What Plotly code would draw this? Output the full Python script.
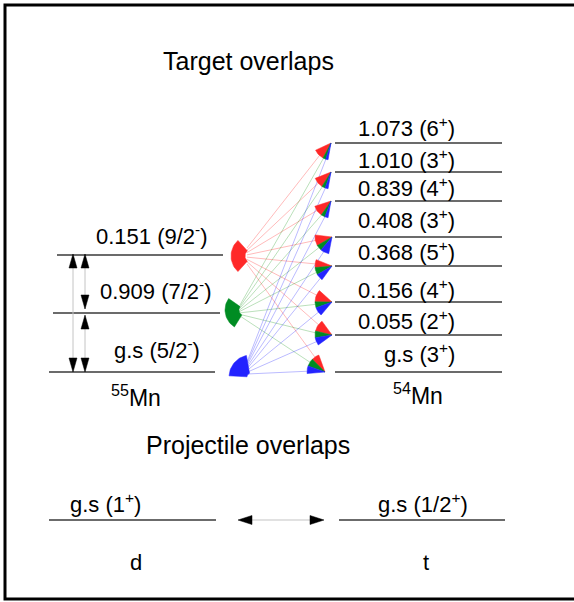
import math
import plotly.graph_objects as go

# ---------------- data ----------------
titles = ["Target overlaps", "Projectile overlaps"]
mn55_energy = ["0.151", "0.909", "g.s"]
mn55_spin = ["9/2", "7/2", "5/2"]
mn55_parity = ["-", "-", "-"]
mn54_energy = ["1.073", "1.010", "0.839", "0.408", "0.368", "0.156", "0.055", "g.s"]
mn54_spin = ["6", "3", "4", "3", "5", "4", "2", "3"]
mn54_parity = ["+", "+", "+", "+", "+", "+", "+", "+"]
nucleus_labels = ["<sup>55</sup>Mn", "<sup>54</sup>Mn"]
# share of each 55Mn level (red = 9/2-, green = 7/2-, blue = 5/2-) in the 54Mn overlap pies
red_share = [0.67, 0.62, 0.60, 0.43, 0.36, 0.45, 0.45, 0.33]
green_share = [0.18, 0.20, 0.22, 0.23, 0.33, 0.22, 0.25, 0.34]
blue_share = [0.15, 0.18, 0.18, 0.34, 0.31, 0.33, 0.30, 0.33]
proj_energy = ["g.s", "g.s"]
proj_spin = ["1", "1/2"]
proj_parity = ["+", "+"]
proj_names = ["d", "t"]

# ---------------- layout geometry (pixels) ----------------
W, H = 574, 602
FONT = "Liberation Sans, Arial, sans-serif"
RED, GREEN, BLUE = "rgb(255,40,40)", "rgb(0,140,35)", "rgb(35,35,255)"
RED_L, GREEN_L, BLUE_L = "rgba(255,0,0,0.27)", "rgba(0,140,0,0.27)", "rgba(0,0,255,0.27)"
LEVEL_COL = "#3a3a3a"

left_y = [255, 313, 372]
left_x = [(57, 223), (53, 220), (49, 215)]
left_lab = [(152, 235), (156, 290), (157, 349)]
right_y = [143, 172, 201, 237, 266, 302, 335, 372]
right_x = (335, 502)
right_lab_y = [127, 159, 187, 219, 251, 289, 320, 353]
right_lab_x = 457

# left glyphs: center, r_in, r_out, angle range (screen degrees, y down)
left_glyph = [
    ((252, 256), 7, 21, (132, 228), RED),
    ((245, 310), 6, 20, (122, 215), GREEN),
    ((251, 377), 4, 22, (183, 258), BLUE),
]
# right glyphs: apex and angular span
right_apex_x = [331, 331, 331, 332, 332, 332, 332, 325]
right_span = [(100, 155), (100, 158), (100, 162), (101, 187),
              (126, 202), (130, 222), (144, 234), (175, 250)]
right_r = [17, 17, 17, 17, 17, 17, 17, 18]

fig = go.Figure()


def fan(cx, cy, r0, r1, a0, a1, n=24):
    xs, ys = [], []
    for k in range(n + 1):
        a = math.radians(a0 + (a1 - a0) * k / n)
        xs.append(cx + r1 * math.cos(a))
        ys.append(cy + r1 * math.sin(a))
    for k in range(n + 1):
        a = math.radians(a1 - (a1 - a0) * k / n)
        xs.append(cx + r0 * math.cos(a))
        ys.append(cy + r0 * math.sin(a))
    xs.append(xs[0])
    ys.append(ys[0])
    return xs, ys


def poly(xs, ys, color):
    fig.add_trace(go.Scatter(x=xs, y=ys, mode="lines", fill="toself",
                             fillcolor=color, line=dict(color=color, width=0.5),
                             hoverinfo="skip", showlegend=False))


def seg(xs, ys, color, width=1.0):
    fig.add_trace(go.Scatter(x=xs, y=ys, mode="lines",
                             line=dict(color=color, width=width),
                             hoverinfo="skip", showlegend=False))


def tri(x, tip, direction, w=8, h=14, horizontal=False):
    base = tip - direction * h
    if horizontal:
        poly([tip, base, base, tip], [x, x - w / 2, x + w / 2, x], "black")
    else:
        poly([x, x - w / 2, x + w / 2, x], [tip, base, base, tip], "black")


# ---- connection lines (drawn first, beneath glyphs) ----
n_right = len(mn54_energy)
slices = []
for i in range(n_right):
    a0, a1 = right_span[i]
    span = a1 - a0
    tot = red_share[i] + green_share[i] + blue_share[i]
    b = blue_share[i] / tot * span
    g = green_share[i] / tot * span
    slices.append({
        "blue": (a0, a0 + b),
        "green": (a0 + b, a0 + b + g),
        "red": (a0 + b + g, a1),
    })

start_pts = {
    "red": (247, 248, 264),
    "green": (240, 305, 316),
    "blue": (247, 362, 374),
}
line_col = {"red": RED_L, "green": GREEN_L, "blue": BLUE_L}
for key in ["red", "green", "blue"]:
    xs, ys = [], []
    sx, sy0, sy1 = start_pts[key]
    for i in range(n_right):
        sy = sy0 + (sy1 - sy0) * i / (n_right - 1)
        lo, hi = slices[i][key]
        mid = math.radians((lo + hi) / 2)
        ex = right_apex_x[i] + 9 * math.cos(mid)
        ey = right_y[i] + 9 * math.sin(mid)
        xs += [sx, ex, None]
        ys += [sy, ey, None]
    seg(xs, ys, line_col[key], 1)

# ---- level lines ----
for (x0, x1), y in zip(left_x, left_y):
    seg([x0, x1], [y, y], LEVEL_COL, 1.5)
for y in right_y:
    seg([right_x[0], right_x[1]], [y, y], LEVEL_COL, 1.5)

# ---- glyphs ----
for (c, r0, r1, (a0, a1), col) in left_glyph:
    xs, ys = fan(c[0], c[1], r0, r1, a0, a1)
    poly(xs, ys, col)

for i in range(n_right):
    for key, col in [("red", RED), ("green", GREEN), ("blue", BLUE)]:
        lo, hi = slices[i][key]
        xs, ys = fan(right_apex_x[i], right_y[i], 0, right_r[i], lo, hi, n=8)
        poly(xs, ys, col)

# ---- arrows between 55Mn levels ----
seg([73, 73], [256, 370], "#c4c4c4", 1)
tri(73, 254, -1)
tri(73, 372, 1)
seg([85, 85], [256, 309], "#c4c4c4", 1)
seg([85, 85], [316, 370], "#c4c4c4", 1)
tri(85, 254, -1)
tri(85, 309, 1)
tri(85, 315, -1)
tri(85, 372, 1)

# ---- projectile overlaps ----
seg([49, 216], [520, 520], LEVEL_COL, 1.5)
seg([339, 505], [520, 520], LEVEL_COL, 1.5)
seg([240, 322], [520, 520], "#c4c4c4", 1.2)
tri(520, 238, -1, w=9, h=14, horizontal=True)
tri(520, 324, 1, w=9, h=14, horizontal=True)

# ---- text ----
ann = []


def text(x, y, s, size=22, xanchor="center"):
    ann.append(dict(x=x, y=y, xref="x", yref="y", text=s, showarrow=False,
                    xanchor=xanchor, yanchor="middle",
                    font=dict(family=FONT, size=size, color="black")))


text(248, 61, titles[0], size=25)
text(248, 445, titles[1], size=25)
for (x, y), e, s, p in zip(left_lab, mn55_energy, mn55_spin, mn55_parity):
    text(x, y, f"{e} ({s}<sup>{p}</sup>)")
for y, e, s, p in zip(right_lab_y, mn54_energy, mn54_spin, mn54_parity):
    text(right_lab_x, y, f"{e} ({s}<sup>{p}</sup>)", xanchor="right")
text(136, 396, nucleus_labels[0], size=23)
text(418, 394, nucleus_labels[1], size=23)
text(105, 503, f"{proj_energy[0]} ({proj_spin[0]}<sup>{proj_parity[0]}</sup>)")
text(423, 503, f"{proj_energy[1]} ({proj_spin[1]}<sup>{proj_parity[1]}</sup>)")
text(136, 562, proj_names[0])
text(426, 562, proj_names[1])

fig.update_layout(
    width=W, height=H,
    margin=dict(l=0, r=0, t=0, b=0),
    paper_bgcolor="white", plot_bgcolor="white",
    xaxis=dict(range=[0, W], visible=False, fixedrange=True),
    yaxis=dict(range=[H, 0], visible=False, fixedrange=True),
    annotations=ann,
    shapes=[dict(type="rect", xref="x", yref="y", x0=5, y0=5, x1=620, y1=599,
                 line=dict(color="black", width=3))],
    showlegend=False,
)

fig.write_html("out.html", config={"displayModeBar": False},
               post_script="document.body.style.margin='0px';document.body.style.overflow='hidden';")
